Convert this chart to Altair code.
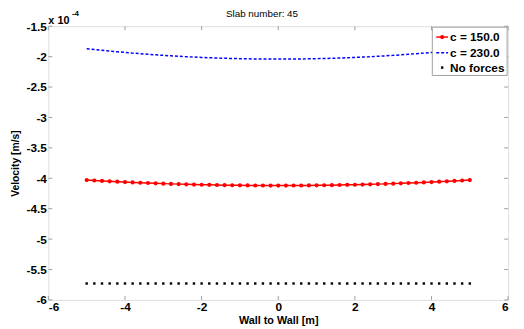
import altair as alt
import pandas as pd

x_vals = [-5.0, -4.8, -4.6, -4.4, -4.2, -4.0, -3.8, -3.6, -3.4, -3.2, -3.0,
          -2.8, -2.6, -2.4, -2.2, -2.0, -1.8, -1.6, -1.4, -1.2, -1.0,
          -0.8, -0.6, -0.4, -0.2, 0.0, 0.2, 0.4, 0.6, 0.8, 1.0,
          1.2, 1.4, 1.6, 1.8, 2.0, 2.2, 2.4, 2.6, 2.8, 3.0,
          3.2, 3.4, 3.6, 3.8, 4.0, 4.2, 4.4, 4.6, 4.8, 5.0]

c230 = [-1.870, -1.883, -1.896, -1.908, -1.920, -1.931, -1.942, -1.952, -1.961, -1.970,
        -1.979, -1.987, -1.994, -2.001, -2.007, -2.013, -2.018, -2.023, -2.027, -2.030,
        -2.033, -2.036, -2.038, -2.039, -2.040, -2.040,
        -2.040, -2.039, -2.038, -2.036, -2.033, -2.030, -2.027, -2.023, -2.018, -2.013,
        -2.007, -2.001, -1.994, -1.987, -1.979, -1.970, -1.961, -1.952, -1.942, -1.931,
        -1.920, -1.908, -1.896, -1.883, -1.872]

c150 = [-4.030, -4.037, -4.044, -4.050, -4.056, -4.062, -4.068, -4.073, -4.078, -4.083,
        -4.088, -4.092, -4.096, -4.099, -4.103, -4.106, -4.108, -4.111, -4.113, -4.115,
        -4.116, -4.118, -4.119, -4.119, -4.120, -4.120,
        -4.120, -4.119, -4.119, -4.118, -4.116, -4.115, -4.113, -4.111, -4.108, -4.106,
        -4.103, -4.099, -4.096, -4.092, -4.088, -4.083, -4.078, -4.073, -4.068, -4.062,
        -4.056, -4.050, -4.044, -4.037, -4.030]

no_forces = [-5.73] * 51

x_ticks = [-6, -4, -2, 0, 2, 4, 6]
y_ticks = [-6, -5.5, -5, -4.5, -4, -3.5, -3, -2.5, -2, -1.5]
legend_labels = ["c = 150.0", "c = 230.0", "No forces"]

W, H = 467, 278
FONT = "Liberation Sans"
GRAY = "#a0a0a0"

df = pd.DataFrame({"x": x_vals, "c150": c150, "c230": c230, "nf": no_forces})
xt = pd.DataFrame({"t": x_ticks})
yt = pd.DataFrame({"t": y_ticks})
one = pd.DataFrame({"a": [0]})

xs = alt.Scale(domain=[-6, 6], nice=False, zero=False)
ys = alt.Scale(domain=[-6, -1.5], nice=False, zero=False)

xaxis = alt.Axis(values=x_ticks, labelExpr="toString(datum.value)", labelFont=FONT, labelFontSize=12,
                 labelFontWeight="bold", labelColor="black", tickSize=0, domain=False,
                 grid=False, labelPadding=2, labelOverlap=False, title="Wall to Wall [m]",
                 titleFont=FONT, titleFontSize=11, titleFontWeight="bold", titleColor="black",
                 titlePadding=2)
yaxis = alt.Axis(values=y_ticks, labelExpr="toString(datum.value)", labelFont=FONT, labelFontSize=12,
                 labelFontWeight="bold", labelColor="black", tickSize=0, domain=False,
                 grid=False, labelPadding=2, labelOverlap=False, title="Velocity [m/s]",
                 titleFont=FONT, titleFontSize=10.5, titleFontWeight="bold", titleColor="black",
                 titlePadding=6)

X = alt.X("x:Q", scale=xs, axis=xaxis)
base = alt.Chart(df)

blue = base.mark_line(color="#0000ff", strokeDash=[3, 2], strokeWidth=1.5).encode(
    x=X, y=alt.Y("c230:Q", scale=ys, axis=yaxis))
red_line = base.mark_line(color="#ff0000", strokeWidth=1.5).encode(
    x=X, y=alt.Y("c150:Q", scale=ys, axis=yaxis))
red_pts = base.mark_circle(color="#ff0000", size=18, opacity=1).encode(
    x=X, y=alt.Y("c150:Q", scale=ys, axis=yaxis))
black_pts = base.mark_square(color="black", size=6, opacity=1).encode(
    x=X, y=alt.Y("nf:Q", scale=ys, axis=yaxis))

tb = alt.Chart(xt).mark_rule(color=GRAY).encode(
    x=alt.X("t:Q", scale=xs, axis=xaxis), y=alt.value(H), y2=alt.value(H - 4))
tt = alt.Chart(xt).mark_rule(color=GRAY).encode(
    x=alt.X("t:Q", scale=xs, axis=xaxis), y=alt.value(0), y2=alt.value(4))
tl = alt.Chart(yt).mark_rule(color=GRAY).encode(
    y=alt.Y("t:Q", scale=ys, axis=yaxis), x=alt.value(0), x2=alt.value(4))
tr = alt.Chart(yt).mark_rule(color=GRAY).encode(
    y=alt.Y("t:Q", scale=ys, axis=yaxis), x=alt.value(W - 4), x2=alt.value(W))

title = alt.Chart(one).mark_text(text="Slab number: 45", font=FONT, fontSize=10, color="black",
                                 align="center", baseline="middle").encode(
    x=alt.value(217), y=alt.value(-12))
exp1 = alt.Chart(one).mark_text(text="x 10", font=FONT, fontSize=11, fontWeight="bold", color="black",
                                align="left", baseline="middle").encode(x=alt.value(0), y=alt.value(-5))
exp2 = alt.Chart(one).mark_text(text="-4", font=FONT, fontSize=8, fontWeight="bold", color="black",
                                align="left", baseline="middle").encode(x=alt.value(24), y=alt.value(-12))

leg_box = alt.Chart(one).mark_rect(fill="white", stroke=GRAY, strokeWidth=1).encode(
    x=alt.value(390), x2=alt.value(466), y=alt.value(1), y2=alt.value(50))
leg_red = alt.Chart(one).mark_rule(color="#ff0000", strokeWidth=1.5).encode(
    x=alt.value(394), x2=alt.value(406), y=alt.value(11))
leg_red_pt = alt.Chart(one).mark_circle(color="#ff0000", size=18, opacity=1).encode(
    x=alt.value(400), y=alt.value(11))
leg_blue = alt.Chart(one).mark_rule(color="#0000ff", strokeWidth=1.5, strokeDash=[3, 2]).encode(
    x=alt.value(394), x2=alt.value(406), y=alt.value(27))
leg_blk = alt.Chart(one).mark_square(color="black", size=6, opacity=1).encode(
    x=alt.value(400), y=alt.value(42))
leg_txt = [
    alt.Chart(one).mark_text(text=lab, font=FONT, fontSize=12, fontWeight="bold", color="black",
                             align="left", baseline="middle").encode(x=alt.value(408), y=alt.value(yy))
    for lab, yy in zip(legend_labels, [11, 27, 42])
]

chart = alt.layer(
    blue, red_line, red_pts, black_pts, tb, tt, tl, tr, title, exp1, exp2,
    leg_box, leg_red, leg_red_pt, leg_blue, leg_blk, *leg_txt
).properties(
    width=W, height=H,
    autosize=alt.AutoSizeParams(type="none"),
    padding={"left": 41, "top": 16, "right": 8, "bottom": 26},
).configure_view(stroke=GRAY, strokeWidth=1).configure(background="white")

chart.save("out.html", embed_options={"renderer": "svg", "actions": False})
